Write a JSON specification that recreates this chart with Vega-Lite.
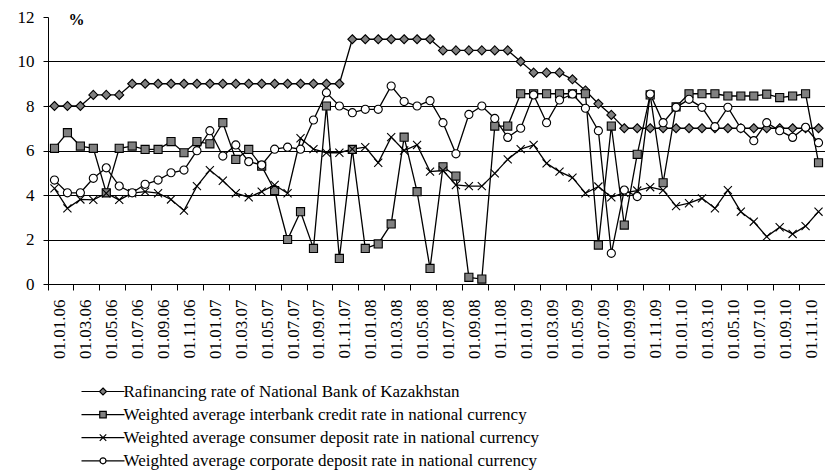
{
"$schema":"https://vega.github.io/schema/vega-lite/v6.json",
"width":777,"height":267,"autosize":"none",
"padding":{"left":48,"top":17,"right":0,"bottom":192},
"background":"white",
"config":{"view":{"stroke":null},"font":"Liberation Serif","legend":{"orient":"none","legendX":46.5,"legendY":366,"title":null,"padding":0,"direction":"vertical","labelFont":"Liberation Serif","labelFontSize":17,"labelColor":"black","labelLimit":800,"symbolSize":100,"symbolStrokeWidth":1.2,"labelOffset":12,"rowPadding":5.1}},
"data":{"values":[
{"m":"2006-01","s":"ref","v":8},{"m":"2006-02","s":"ref","v":8},{"m":"2006-03","s":"ref","v":8},{"m":"2006-04","s":"ref","v":8.5},{"m":"2006-05","s":"ref","v":8.5},{"m":"2006-06","s":"ref","v":8.5},{"m":"2006-07","s":"ref","v":9},{"m":"2006-08","s":"ref","v":9},{"m":"2006-09","s":"ref","v":9},{"m":"2006-10","s":"ref","v":9},{"m":"2006-11","s":"ref","v":9},{"m":"2006-12","s":"ref","v":9},
{"m":"2007-01","s":"ref","v":9},{"m":"2007-02","s":"ref","v":9},{"m":"2007-03","s":"ref","v":9},{"m":"2007-04","s":"ref","v":9},{"m":"2007-05","s":"ref","v":9},{"m":"2007-06","s":"ref","v":9},{"m":"2007-07","s":"ref","v":9},{"m":"2007-08","s":"ref","v":9},{"m":"2007-09","s":"ref","v":9},{"m":"2007-10","s":"ref","v":9},{"m":"2007-11","s":"ref","v":9},{"m":"2007-12","s":"ref","v":11},
{"m":"2008-01","s":"ref","v":11},{"m":"2008-02","s":"ref","v":11},{"m":"2008-03","s":"ref","v":11},{"m":"2008-04","s":"ref","v":11},{"m":"2008-05","s":"ref","v":11},{"m":"2008-06","s":"ref","v":11},{"m":"2008-07","s":"ref","v":10.5},{"m":"2008-08","s":"ref","v":10.5},{"m":"2008-09","s":"ref","v":10.5},{"m":"2008-10","s":"ref","v":10.5},{"m":"2008-11","s":"ref","v":10.5},{"m":"2008-12","s":"ref","v":10.5},
{"m":"2009-01","s":"ref","v":10},{"m":"2009-02","s":"ref","v":9.5},{"m":"2009-03","s":"ref","v":9.5},{"m":"2009-04","s":"ref","v":9.5},{"m":"2009-05","s":"ref","v":9.2},{"m":"2009-06","s":"ref","v":8.7},{"m":"2009-07","s":"ref","v":8.1},{"m":"2009-08","s":"ref","v":7.6},{"m":"2009-09","s":"ref","v":7},{"m":"2009-10","s":"ref","v":7},{"m":"2009-11","s":"ref","v":7},{"m":"2009-12","s":"ref","v":7},
{"m":"2010-01","s":"ref","v":7},{"m":"2010-02","s":"ref","v":7},{"m":"2010-03","s":"ref","v":7},{"m":"2010-04","s":"ref","v":7},{"m":"2010-05","s":"ref","v":7},{"m":"2010-06","s":"ref","v":7},{"m":"2010-07","s":"ref","v":7},{"m":"2010-08","s":"ref","v":7},{"m":"2010-09","s":"ref","v":7},{"m":"2010-10","s":"ref","v":7},{"m":"2010-11","s":"ref","v":7},{"m":"2010-12","s":"ref","v":7},
{"m":"2006-01","s":"ib","v":6.1},{"m":"2006-02","s":"ib","v":6.8},{"m":"2006-03","s":"ib","v":6.2},{"m":"2006-04","s":"ib","v":6.1},{"m":"2006-05","s":"ib","v":4.1},{"m":"2006-06","s":"ib","v":6.1},{"m":"2006-07","s":"ib","v":6.2},{"m":"2006-08","s":"ib","v":6.05},{"m":"2006-09","s":"ib","v":6.05},{"m":"2006-10","s":"ib","v":6.4},{"m":"2006-11","s":"ib","v":5.9},{"m":"2006-12","s":"ib","v":6.4},
{"m":"2007-01","s":"ib","v":6.3},{"m":"2007-02","s":"ib","v":7.25},{"m":"2007-03","s":"ib","v":5.6},{"m":"2007-04","s":"ib","v":6.05},{"m":"2007-05","s":"ib","v":5.3},{"m":"2007-06","s":"ib","v":4.2},{"m":"2007-07","s":"ib","v":2.0},{"m":"2007-08","s":"ib","v":3.25},{"m":"2007-09","s":"ib","v":1.6},{"m":"2007-10","s":"ib","v":8.0},{"m":"2007-11","s":"ib","v":1.15},{"m":"2007-12","s":"ib","v":6.05},
{"m":"2008-01","s":"ib","v":1.6},{"m":"2008-02","s":"ib","v":1.8},{"m":"2008-03","s":"ib","v":2.7},{"m":"2008-04","s":"ib","v":6.6},{"m":"2008-05","s":"ib","v":4.15},{"m":"2008-06","s":"ib","v":0.7},{"m":"2008-07","s":"ib","v":5.27},{"m":"2008-08","s":"ib","v":4.85},{"m":"2008-09","s":"ib","v":0.3},{"m":"2008-10","s":"ib","v":0.22},{"m":"2008-11","s":"ib","v":7.1},{"m":"2008-12","s":"ib","v":7.1},
{"m":"2009-01","s":"ib","v":8.55},{"m":"2009-02","s":"ib","v":8.55},{"m":"2009-03","s":"ib","v":8.55},{"m":"2009-04","s":"ib","v":8.55},{"m":"2009-05","s":"ib","v":8.55},{"m":"2009-06","s":"ib","v":8.55},{"m":"2009-07","s":"ib","v":1.75},{"m":"2009-08","s":"ib","v":7.1},{"m":"2009-09","s":"ib","v":2.65},{"m":"2009-10","s":"ib","v":5.83},{"m":"2009-11","s":"ib","v":8.5},{"m":"2009-12","s":"ib","v":4.55},
{"m":"2010-01","s":"ib","v":7.96},{"m":"2010-02","s":"ib","v":8.55},{"m":"2010-03","s":"ib","v":8.55},{"m":"2010-04","s":"ib","v":8.55},{"m":"2010-05","s":"ib","v":8.45},{"m":"2010-06","s":"ib","v":8.45},{"m":"2010-07","s":"ib","v":8.45},{"m":"2010-08","s":"ib","v":8.53},{"m":"2010-09","s":"ib","v":8.38},{"m":"2010-10","s":"ib","v":8.45},{"m":"2010-11","s":"ib","v":8.55},{"m":"2010-12","s":"ib","v":5.45},
{"m":"2006-01","s":"cons","v":4.3},{"m":"2006-02","s":"cons","v":3.4},{"m":"2006-03","s":"cons","v":3.8},{"m":"2006-04","s":"cons","v":3.78},{"m":"2006-05","s":"cons","v":4.08},{"m":"2006-06","s":"cons","v":3.78},{"m":"2006-07","s":"cons","v":4.08},{"m":"2006-08","s":"cons","v":4.15},{"m":"2006-09","s":"cons","v":4.08},{"m":"2006-10","s":"cons","v":3.8},{"m":"2006-11","s":"cons","v":3.3},{"m":"2006-12","s":"cons","v":4.4},
{"m":"2007-01","s":"cons","v":5.12},{"m":"2007-02","s":"cons","v":4.64},{"m":"2007-03","s":"cons","v":4.08},{"m":"2007-04","s":"cons","v":3.9},{"m":"2007-05","s":"cons","v":4.15},{"m":"2007-06","s":"cons","v":4.45},{"m":"2007-07","s":"cons","v":4.08},{"m":"2007-08","s":"cons","v":6.55},{"m":"2007-09","s":"cons","v":6.06},{"m":"2007-10","s":"cons","v":5.9},{"m":"2007-11","s":"cons","v":5.9},{"m":"2007-12","s":"cons","v":6.06},
{"m":"2008-01","s":"cons","v":6.15},{"m":"2008-02","s":"cons","v":5.45},{"m":"2008-03","s":"cons","v":6.6},{"m":"2008-04","s":"cons","v":6.0},{"m":"2008-05","s":"cons","v":6.25},{"m":"2008-06","s":"cons","v":5.05},{"m":"2008-07","s":"cons","v":5.1},{"m":"2008-08","s":"cons","v":4.45},{"m":"2008-09","s":"cons","v":4.4},{"m":"2008-10","s":"cons","v":4.4},{"m":"2008-11","s":"cons","v":4.97},{"m":"2008-12","s":"cons","v":5.6},
{"m":"2009-01","s":"cons","v":6.06},{"m":"2009-02","s":"cons","v":6.25},{"m":"2009-03","s":"cons","v":5.42},{"m":"2009-04","s":"cons","v":5.05},{"m":"2009-05","s":"cons","v":4.78},{"m":"2009-06","s":"cons","v":4.08},{"m":"2009-07","s":"cons","v":4.38},{"m":"2009-08","s":"cons","v":3.9},{"m":"2009-09","s":"cons","v":4.1},{"m":"2009-10","s":"cons","v":4.2},{"m":"2009-11","s":"cons","v":4.35},{"m":"2009-12","s":"cons","v":4.22},
{"m":"2010-01","s":"cons","v":3.5},{"m":"2010-02","s":"cons","v":3.63},{"m":"2010-03","s":"cons","v":3.85},{"m":"2010-04","s":"cons","v":3.4},{"m":"2010-05","s":"cons","v":4.22},{"m":"2010-06","s":"cons","v":3.25},{"m":"2010-07","s":"cons","v":2.8},{"m":"2010-08","s":"cons","v":2.13},{"m":"2010-09","s":"cons","v":2.55},{"m":"2010-10","s":"cons","v":2.25},{"m":"2010-11","s":"cons","v":2.6},{"m":"2010-12","s":"cons","v":3.25},
{"m":"2006-01","s":"corp","v":4.67},{"m":"2006-02","s":"corp","v":4.1},{"m":"2006-03","s":"corp","v":4.1},{"m":"2006-04","s":"corp","v":4.75},{"m":"2006-05","s":"corp","v":5.22},{"m":"2006-06","s":"corp","v":4.4},{"m":"2006-07","s":"corp","v":4.1},{"m":"2006-08","s":"corp","v":4.48},{"m":"2006-09","s":"corp","v":4.67},{"m":"2006-10","s":"corp","v":5.0},{"m":"2006-11","s":"corp","v":5.12},{"m":"2006-12","s":"corp","v":5.99},
{"m":"2007-01","s":"corp","v":6.89},{"m":"2007-02","s":"corp","v":5.75},{"m":"2007-03","s":"corp","v":6.25},{"m":"2007-04","s":"corp","v":5.5},{"m":"2007-05","s":"corp","v":5.35},{"m":"2007-06","s":"corp","v":6.06},{"m":"2007-07","s":"corp","v":6.15},{"m":"2007-08","s":"corp","v":6.06},{"m":"2007-09","s":"corp","v":7.37},{"m":"2007-10","s":"corp","v":8.6},{"m":"2007-11","s":"corp","v":8.0},{"m":"2007-12","s":"corp","v":7.7},
{"m":"2008-01","s":"corp","v":7.85},{"m":"2008-02","s":"corp","v":7.85},{"m":"2008-03","s":"corp","v":8.9},{"m":"2008-04","s":"corp","v":8.2},{"m":"2008-05","s":"corp","v":8.0},{"m":"2008-06","s":"corp","v":8.24},{"m":"2008-07","s":"corp","v":7.25},{"m":"2008-08","s":"corp","v":5.85},{"m":"2008-09","s":"corp","v":7.62},{"m":"2008-10","s":"corp","v":8.0},{"m":"2008-11","s":"corp","v":7.44},{"m":"2008-12","s":"corp","v":6.59},
{"m":"2009-01","s":"corp","v":7.0},{"m":"2009-02","s":"corp","v":8.5},{"m":"2009-03","s":"corp","v":7.25},{"m":"2009-04","s":"corp","v":8.27},{"m":"2009-05","s":"corp","v":8.54},{"m":"2009-06","s":"corp","v":7.9},{"m":"2009-07","s":"corp","v":6.89},{"m":"2009-08","s":"corp","v":1.38},{"m":"2009-09","s":"corp","v":4.22},{"m":"2009-10","s":"corp","v":3.93},{"m":"2009-11","s":"corp","v":8.54},{"m":"2009-12","s":"corp","v":7.25},
{"m":"2010-01","s":"corp","v":7.94},{"m":"2010-02","s":"corp","v":8.3},{"m":"2010-03","s":"corp","v":7.94},{"m":"2010-04","s":"corp","v":7.07},{"m":"2010-05","s":"corp","v":7.94},{"m":"2010-06","s":"corp","v":7.0},{"m":"2010-07","s":"corp","v":6.44},{"m":"2010-08","s":"corp","v":7.25},{"m":"2010-09","s":"corp","v":6.89},{"m":"2010-10","s":"corp","v":6.59},{"m":"2010-11","s":"corp","v":7.04},{"m":"2010-12","s":"corp","v":6.35}
]},
"encoding":{
"x":{"field":"m","type":"nominal","sort":null,"scale":{"type":"band","paddingInner":0,"paddingOuter":0},
"axis":{"values":["2006-01","2006-03","2006-05","2006-07","2006-09","2006-11","2007-01","2007-03","2007-05","2007-07","2007-09","2007-11","2008-01","2008-03","2008-05","2008-07","2008-09","2008-11","2009-01","2009-03","2009-05","2009-07","2009-09","2009-11","2010-01","2010-03","2010-05","2010-07","2010-09","2010-11"],
"labelExpr":"'01.' + slice(datum.value,5,7) + '.' + slice(datum.value,2,4)",
"labelAngle":270,"labelAlign":"right","labelBaseline":"middle","bandPosition":0,"labelOffset":6,
"tickSize":6,"tickColor":"black","domainColor":"black","labelFont":"Liberation Serif","labelFontSize":17,"labelColor":"black","labelPadding":9,"title":null,"grid":false}},
"y":{"field":"v","type":"quantitative","scale":{"domain":[0,12],"nice":false},
"axis":{"values":[0,2,4,6,8,10,12],"grid":true,"gridColor":"black","gridWidth":1,"gridOpacity":{"condition":{"test":"datum.value == 12","value":0},"value":1},
"domainColor":"black","ticks":true,"tickColor":"black","tickSize":5,"labelFont":"Liberation Serif","labelFontSize":17,"labelColor":"black","labelPadding":9,
"title":"%","titleAngle":0,"titleX":28,"titleY":2,"titleAlign":"center","titleBaseline":"middle","titleFont":"Liberation Serif","titleFontSize":16,"titleFontWeight":"bold","titleColor":"black"}}
},
"layer":[
{"mark":{"type":"line","stroke":"black","strokeWidth":1.3},"encoding":{"detail":{"field":"s"}}},
{"mark":{"type":"point","filled":true,"stroke":"black","strokeWidth":1.1,"size":81,"opacity":1},
"encoding":{
"shape":{"field":"s","type":"nominal","scale":{"domain":["ref","ib","cons","corp"],"range":["M0,-1L1,0L0,1L-1,0Z","M-0.9,-0.9H0.9V0.9H-0.9Z","M-0.9,-0.9L0.9,0.9M-0.9,0.9L0.9,-0.9","M-0.9,0A0.9,0.9,0,1,1,0.9,0A0.9,0.9,0,1,1,-0.9,0Z"]},"legend":null},
"fill":{"field":"s","type":"nominal","scale":{"domain":["ref","ib","cons","corp"],"range":["#808080","#808080","transparent","white"]},"legend":null}}},
{"transform":[{"filter":"false"}],
"mark":{"type":"point","filled":true,"strokeWidth":1.2,"opacity":1},
"encoding":{
"shape":{"field":"s","type":"nominal","scale":{"domain":["ref","ib","cons","corp"],"range":["M-4.3,0H-0.7M0.7,0H4.3M0,-0.7L0.7,0L0,0.7L-0.7,0Z","M-4.3,0H-0.65M0.65,0H4.3M-0.65,-0.65H0.65V0.65H-0.65Z","M-4.3,0H4.3M-0.65,-0.65L0.65,0.65M-0.65,0.65L0.65,-0.65","M-4.3,0H-0.6M0.6,0H4.3M-0.6,0A0.6,0.6,0,1,1,0.6,0A0.6,0.6,0,1,1,-0.6,0Z"]},
"legend":{"labelExpr":"{'ref':'Rafinancing rate of National Bank of Kazakhstan','ib':'Weighted average  interbank credit rate in national currency','cons':'Weighted average consumer deposit rate in national currency','corp':'Weighted average corporate deposit rate in national currency'}[datum.label]"}},
"fill":{"field":"s","type":"nominal","scale":{"domain":["ref","ib","cons","corp"],"range":["#808080","#808080","transparent","white"]},
"legend":{"labelExpr":"{'ref':'Rafinancing rate of National Bank of Kazakhstan','ib':'Weighted average  interbank credit rate in national currency','cons':'Weighted average consumer deposit rate in national currency','corp':'Weighted average corporate deposit rate in national currency'}[datum.label]"}},
"stroke":{"field":"s","type":"nominal","scale":{"domain":["ref","ib","cons","corp"],"range":["black","black","black","black"]},
"legend":{"labelExpr":"{'ref':'Rafinancing rate of National Bank of Kazakhstan','ib':'Weighted average  interbank credit rate in national currency','cons':'Weighted average consumer deposit rate in national currency','corp':'Weighted average corporate deposit rate in national currency'}[datum.label]"}}}}
],
"resolve":{"scale":{"shape":"independent","fill":"independent","stroke":"independent"}}
}
